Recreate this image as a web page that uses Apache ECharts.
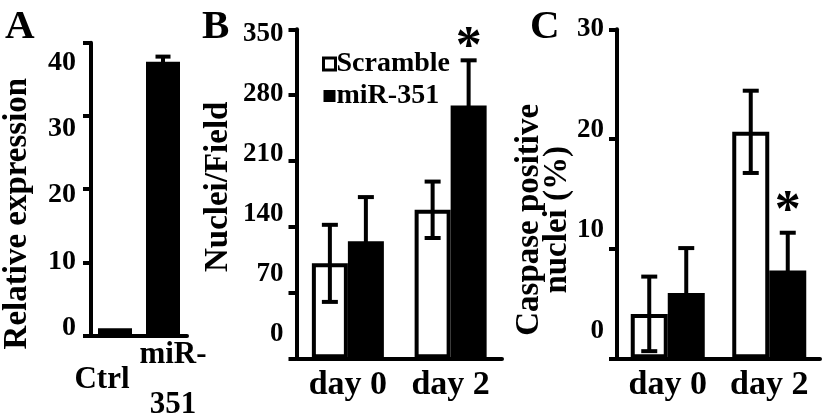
<!DOCTYPE html>
<html>
<head>
<meta charset="utf-8">
<script src="https://cdn.jsdelivr.net/npm/echarts@6/dist/echarts.min.js"></script>
<style>
html,body{margin:0;padding:0;background:#fff;}
#chart{width:825px;height:420px;}
</style>
</head>
<body>
<div id="chart"></div>
<script>
// ---------- data ----------
const aCategories = ['Ctrl', 'miR-351'];
const aValues = [1.0, 37.4];
const aErrors = [0, 0.7];
const aTicks = [0, 10, 20, 30, 40];

const bCategories = ['day 0', 'day 2'];
const bScramble = [101, 158];
const bScrambleErr = [41, 30];
const bMir = [124.5, 269];
const bMirErr = [47, 48];
const bMirSig = [0, 1];
const bTicks = [0, 70, 140, 210, 280, 350];

const cCategories = ['day 0', 'day 2'];
const cScramble = [4.05, 20.65];
const cScrambleErr = [3.4, 3.75];
const cMir = [5.95, 8.0];
const cMirErr = [4.1, 3.45];
const cMirSig = [0, 1];
const cTicks = [0, 10, 20, 30];

// ---------- styles ----------
const FONT = 'Liberation Serif';
const BLACK = '#000';
const txt = (size) => ({fontFamily: FONT, fontWeight: 'bold', fontSize: size, color: BLACK});

function tickAxis(gi, max, interval, name, nameGap, namePad, nameLH) {
  return {
    type: 'value', gridIndex: gi, min: 0, max: max, interval: interval, position: 'left',
    axisLine: {show: true, onZero: false, lineStyle: {color: BLACK, width: 4}},
    axisTick: {show: true, inside: false, length: 8, lineStyle: {color: BLACK, width: 4}},
    axisLabel: {show: false}, splitLine: {show: false},
    name: name, nameLocation: 'middle', nameRotate: 90, nameGap: nameGap,
    nameTextStyle: Object.assign(txt(33), {padding: namePad, lineHeight: nameLH || 33})
  };
}
function labelAxis(gi, min, max, values, size, margin) {
  return {
    type: 'value', gridIndex: gi, min: min, max: max, position: 'left',
    axisLine: {show: false}, axisTick: {show: false}, splitLine: {show: false},
    axisLabel: Object.assign(txt(size), {customValues: values, margin: margin})
  };
}
function catAxis(gi, cats, extra) {
  return Object.assign({
    type: 'category', gridIndex: gi, data: cats,
    axisLine: {show: true, onZero: false, lineStyle: {color: BLACK, width: 4}},
    axisTick: {show: false},
    axisLabel: Object.assign(txt(34), {margin: 27, verticalAlign: 'middle', interval: 0})
  }, extra || {});
}
const whiteBar = {color: '#fff', borderColor: BLACK, borderWidth: 4};
const blackBar = {color: BLACK, borderColor: BLACK, borderWidth: 4};

function errSeries(xi, yi, values, errs, side, barW, capW, starGap, sig) {
  return {
    type: 'custom', xAxisIndex: xi, yAxisIndex: yi, z: 10, silent: true,
    data: values.map((v, i) => [i, v, errs[i], sig ? sig[i] : 0]),
    renderItem: function (params, api) {
      const i = api.value(0), v = api.value(1), e = api.value(2), s = api.value(3);
      const t = api.coord([i, v + e]);
      const b = api.coord([i, v - e]);
      const cx = t[0] + side * barW / 2;
      const st = {stroke: BLACK, lineWidth: 4};
      const ch = [];
      if (e > 0) {
        ch.push({type: 'line', shape: {x1: cx, y1: t[1], x2: cx, y2: b[1]}, style: st});
        ch.push({type: 'line', shape: {x1: cx - capW / 2, y1: t[1], x2: cx + capW / 2, y2: t[1]}, style: st});
        ch.push({type: 'line', shape: {x1: cx - capW / 2, y1: b[1], x2: cx + capW / 2, y2: b[1]}, style: st});
      }
      if (s) {
        ch.push({type: 'text', style: {text: '*', x: cx, y: t[1] - starGap, align: 'center', verticalAlign: 'middle',
          fontFamily: FONT, fontWeight: 'bold', fontSize: 52, fill: BLACK}});
      }
      return {type: 'group', children: ch};
    }
  };
}

const option = {
  backgroundColor: '#fff',
  animation: false,
  title: [
    {text: 'A', left: 5, top: 7, padding: 0, textStyle: txt(41)},
    {text: 'B', left: 202, top: 7, padding: 0, textStyle: txt(41)},
    {text: 'C', left: 530, top: 7, padding: 0, textStyle: txt(41)}
  ],
  legend: {
    orient: 'vertical', left: 317, top: 45, itemWidth: 12, itemHeight: 12, itemGap: 4,
    selectedMode: false, textStyle: Object.assign(txt(28), {padding: [0, 0, 0, -4]}),
    data: [
      {name: 'Scramble', icon: 'rect', itemStyle: {color: '#fff', borderColor: BLACK, borderWidth: 3}},
      {name: 'miR-351', icon: 'rect', itemStyle: {color: BLACK, borderColor: BLACK, borderWidth: 0}}
    ]
  },
  grid: [
    {left: 91, top: 42.7, width: 96, height: 293.3},
    {left: 296.5, top: 29.3, width: 205.5, height: 329},
    {left: 617, top: 29.3, width: 203, height: 329}
  ],
  xAxis: [
    catAxis(0, aCategories, {
      axisLabel: Object.assign(txt(31), {
        margin: 44, verticalAlign: 'middle', interval: 0,
        formatter: function (val, idx) {
          if (idx === 0) return '{l|' + val + '}';
          const parts = val.split('-');
          return '{r|' + parts[0] + '-}\n{r|' + parts[1] + '}';
        },
        rich: {
          l: {fontFamily: FONT, fontWeight: 'bold', fontSize: 31, color: BLACK, lineHeight: 50, padding: [0, 26, 0, 0]},
          r: {fontFamily: FONT, fontWeight: 'bold', fontSize: 31, color: BLACK, lineHeight: 50, padding: [0, 0, 0, 20]}
        }
      })
    }),
    catAxis(1, bCategories),
    catAxis(2, cCategories)
  ],
  yAxis: [
    tickAxis(0, 40, 10, 'Relative expression', 57, [0, 49, 0, 0]),
    labelAxis(0, -1.207, 43.03, aTicks, 28, 15),
    tickAxis(1, 350, 70, 'Nuclei/Field', 62, [0, 0, 0, 14]),
    labelAxis(1, -27.9, 355.8, bTicks, 27, 13),
    tickAxis(2, 30, 10, 'Caspase positive\nnuclei (%)', 46, [0, 52, 0, 0], 28),
    labelAxis(2, -2.714, 30.0, cTicks, 27, 13)
  ],
  series: [
    {type: 'bar', name: 'A', xAxisIndex: 0, yAxisIndex: 0, barWidth: 34,
      data: aValues.map((v, i) => ({value: v, itemStyle: i === 0 ? whiteBar : blackBar}))},
    errSeries(0, 0, aValues, aErrors, 0, 34, 15, 0, null),

    {type: 'bar', name: 'Scramble', xAxisIndex: 1, yAxisIndex: 2, barWidth: 36, barGap: '0%', itemStyle: whiteBar, data: bScramble},
    {type: 'bar', name: 'miR-351', xAxisIndex: 1, yAxisIndex: 2, barWidth: 36, barGap: '0%', itemStyle: blackBar, data: bMir},
    errSeries(1, 2, bScramble, bScrambleErr, -1, 36, 16, 0, null),
    errSeries(1, 2, bMir, bMirErr, 1, 36, 16, 12, bMirSig),

    {type: 'bar', name: 'Scramble', xAxisIndex: 2, yAxisIndex: 4, barWidth: 37, barGap: '0%', itemStyle: whiteBar, data: cScramble},
    {type: 'bar', name: 'miR-351', xAxisIndex: 2, yAxisIndex: 4, barWidth: 37, barGap: '0%', itemStyle: blackBar, data: cMir},
    errSeries(2, 4, cScramble, cScrambleErr, -1, 37, 16, 0, null),
    errSeries(2, 4, cMir, cMirErr, 1, 37, 16, 20, cMirSig)
  ]
};

const chart = echarts.init(document.getElementById('chart'), null, {renderer: 'canvas'});
chart.setOption(option);
</script>
</body>
</html>
